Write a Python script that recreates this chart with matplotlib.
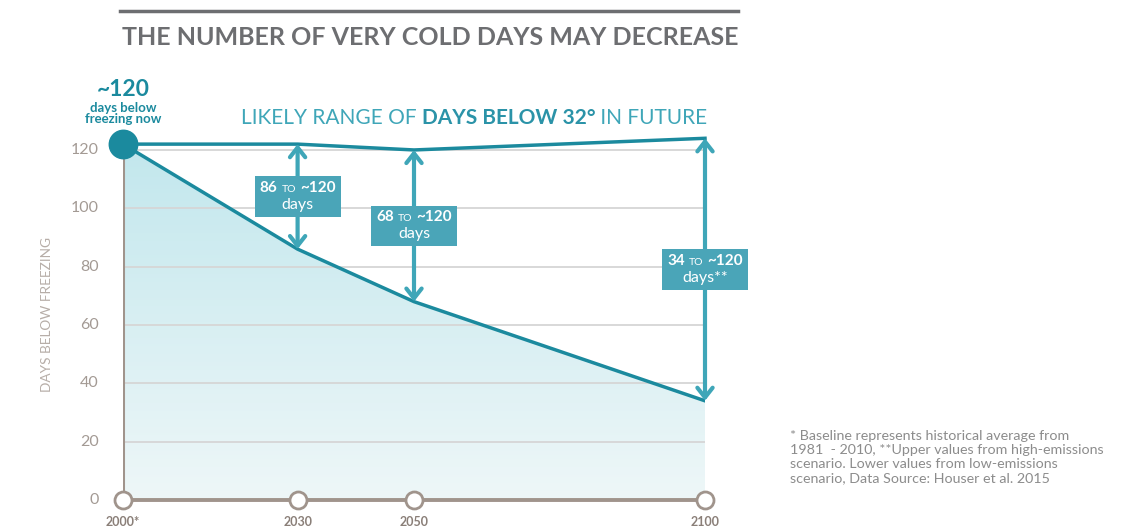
import numpy as np
import matplotlib.pyplot as plt
from matplotlib.colors import LinearSegmentedColormap
from matplotlib.offsetbox import TextArea, HPacker, VPacker, AnnotationBbox

# data
years = [2000, 2030, 2050, 2100]
year_labels = ["2000*", "2030", "2050", "2100"]
low_days = [122, 86, 68, 34]
high_days = [122, 122, 120, 124]
range_low = ["86", "68", "34"]
range_unit = ["days", "days", "days**"]
box_y = [104, 94, 79]
yticks = [0, 20, 40, 60, 80, 100, 120]

plt.rcParams['font.family'] = ['Lato', 'DejaVu Sans']

TEAL = '#1b8a9e'
ARROW = '#3fa6b8'
BOX = '#4aa5b8'
GREY = '#a39a94'

W, H = 1124, 531
fig = plt.figure(figsize=(W / 100, H / 100), dpi=100)
# axes placed in pixels: x 123..705, y0 at 500, 2.917 px per day
ymax = 130
ax = fig.add_axes([123 / W, (H - 500) / H, (705 - 123) / W, ymax * 2.917 / H])
ax.set_xlim(2000, 2100)
ax.set_ylim(0, ymax)
ax.axis('off')

# gradient fill under the low line
poly = ax.fill_between(years, low_days, 0, color='none', lw=0)
grad = np.linspace(0, 1, 256).reshape(-1, 1)
cm = LinearSegmentedColormap.from_list('g', ['#eef7f8', '#c2e7ed'])
img = ax.imshow(grad, extent=[2000, 2100, 0, 122], origin='lower', cmap=cm,
                aspect='auto', zorder=1)
img.set_clip_path(poly.get_paths()[0], transform=ax.transData)

# gridlines and tick labels
for t in yticks:
    if t > 0:
        ax.plot([2000, 2100], [t, t], color='#d6d6d6', lw=1.3, zorder=2)
    ax.text(1995.8, t, str(t), ha='right', va='center', fontsize=11.5, color=GREY)

# axes lines
ax.plot([2000, 2000], [0, 122], color='#a0948c', lw=2.2, zorder=3)
ax.plot([2000, 2100], [0, 0], color='#a0948c', lw=2.8, zorder=3, clip_on=False)
ax.scatter(years, [0] * len(years), s=150, facecolor='white', edgecolor='#a0948c',
           lw=2, zorder=4, clip_on=False)
for x, lab in zip(years, year_labels):
    ax.text(x, -7.5, lab, ha='center', va='center', fontsize=9, fontweight='bold',
            color='#8a7f78')

# range lines
ax.plot(years, high_days, color=TEAL, lw=2.5, zorder=5, clip_on=False)
ax.plot(years, low_days, color=TEAL, lw=2.5, zorder=5)
ax.scatter([2000], [low_days[0]], s=420, color=TEAL, zorder=7, clip_on=False)

# arrows and labels
for i in range(1, len(years)):
    x = years[i]
    ax.annotate('', xy=(x, high_days[i]), xytext=(x, low_days[i]),
                arrowprops=dict(arrowstyle='<->, head_length=0.7, head_width=0.55',
                                color=ARROW, lw=3, shrinkA=0, shrinkB=0),
                zorder=6, annotation_clip=False)
    top = HPacker(children=[
        TextArea(range_low[i - 1], textprops=dict(color='white', fontsize=11, fontweight='bold')),
        TextArea('TO', textprops=dict(color='white', fontsize=7.5)),
        TextArea('~120', textprops=dict(color='white', fontsize=11, fontweight='bold')),
    ], pad=0, sep=3, align='baseline')
    bot = TextArea(range_unit[i - 1], textprops=dict(color='white', fontsize=11.5))
    pack = VPacker(children=[top, bot], pad=0, sep=2, align='center')
    ab = AnnotationBbox(pack, (x, box_y[i - 1]), frameon=True, pad=0.35,
                        bboxprops=dict(facecolor=BOX, edgecolor='none', boxstyle='square,pad=0.35'),
                        zorder=8, annotation_clip=False)
    ax.add_artist(ab)

# "now" label
fig.text(123 / W, 1 - 96 / H, '~120', ha='center', va='baseline', fontsize=16.5,
         fontweight='bold', color=TEAL)
fig.text(123 / W, 1 - 101.5 / H, 'days below\nfreezing now', ha='center', va='top',
         fontsize=9.5, fontweight='bold', color=TEAL, linespacing=0.95)

# future header
hdr = HPacker(children=[
    TextArea('LIKELY RANGE OF ', textprops=dict(color=ARROW, fontsize=15)),
    TextArea('DAYS BELOW 32°', textprops=dict(color='#2b93a8', fontsize=15, fontweight='bold')),
    TextArea(' IN FUTURE', textprops=dict(color=ARROW, fontsize=15)),
], pad=0, sep=0, align='baseline')
fig.add_artist(AnnotationBbox(hdr, (474 / W, 1 - 118 / H), xycoords='figure fraction',
                              frameon=False))

# title
fig.add_artist(plt.Line2D([120 / W, 738 / W], [1 - 11 / H] * 2, color='#6d6e71', lw=2.5))
fig.text(430 / W, 1 - 37 / H, 'THE NUMBER OF VERY COLD DAYS MAY DECREASE', ha='center',
         va='center', fontsize=18, fontweight='bold', color='#6d6e71')

# y label
fig.text(47 / W, 1 - 315 / H, 'DAYS BELOW FREEZING', rotation=90, ha='center', va='center',
         fontsize=9.8, color='#b7aea8')

# footnote
fig.text(790 / W, 1 - 457 / H,
         '* Baseline represents historical average from\n1981  - 2010, **Upper values from high-emissions\n'
         'scenario. Lower values from low-emissions\nscenario, Data Source: Houser et al. 2015',
         ha='left', va='center', fontsize=10.3, color='#8c8c8c', linespacing=1.2)

fig.savefig('out.png', dpi=100)
